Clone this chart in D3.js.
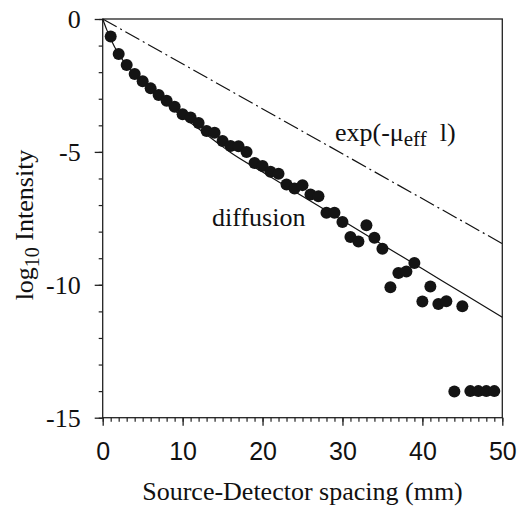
<!DOCTYPE html>
<html>
<head>
<meta charset="utf-8">
<script src="https://cdn.jsdelivr.net/npm/d3@7"></script>
<style>
  html, body { margin: 0; padding: 0; background: #fff; }
  svg { display: block; }
</style>
</head>
<body>
<svg id="chart" width="529" height="512"></svg>
<script>
// Measured intensity versus source-detector spacing
const spacing = [1, 2, 3, 4, 5, 6, 7, 8, 9, 10, 11, 12, 13, 14, 15, 16, 17, 18, 19, 20,
  21, 22, 23, 24, 25, 26, 27, 28, 29, 30, 31, 32, 33, 34, 35, 36, 37, 38, 39, 40,
  41, 42, 43, 44, 45, 46, 47, 48, 49];
const logIntensity = [-0.66, -1.32, -1.73, -2.07, -2.34, -2.61, -2.86, -3.08, -3.30, -3.58,
  -3.71, -3.91, -4.21, -4.28, -4.59, -4.78, -4.79, -5.00, -5.42, -5.53,
  -5.75, -5.82, -6.23, -6.38, -6.25, -6.60, -6.67, -7.29, -7.29, -7.64,
  -8.20, -8.37, -7.76, -8.23, -8.64, -10.09, -9.56, -9.50, -9.18, -10.63,
  -10.06, -10.72, -10.62, -14.01, -10.81, -14.00, -14.00, -14.00, -14.00];

// Diffusion model curve
const diffusionX = [0, 0.5, 1, 2, 3, 4, 5, 6, 8, 10, 12, 14, 16, 20, 25, 30, 35, 40, 45, 50];
const diffusionY = [0, -0.40, -0.75, -1.32, -1.74, -2.09, -2.40, -2.68, -3.20, -3.68,
  -4.13, -4.58, -5.02, -5.76, -6.67, -7.58, -8.49, -9.40, -10.31, -11.22];

// Pure exponential attenuation exp(-mu_eff l)
const expX = [0, 50];
const expY = [0, -8.45];

// Axis ticks
const xTicks = [0, 10, 20, 30, 40, 50];
const xTickLabels = ["0", "10", "20", "30", "40", "50"];
const yTicks = [0, -5, -10, -15];
const yTickLabels = ["0", "-5", "-10", "-15"];

const svg = d3.select("#chart");
const plot = { left: 102.7, right: 502.3, top: 19, bottom: 417.7 };

const x = d3.scaleLinear().domain([0, 50]).range([plot.left, plot.right]);
const y = d3.scaleLinear().domain([-15, 0]).range([plot.bottom, plot.top]);

const serif = "'Liberation Serif', 'Times New Roman', serif";
const sans = "'Liberation Sans', Arial, sans-serif";

// Frame
svg.append("rect")
  .attr("x", plot.left).attr("y", plot.top)
  .attr("width", plot.right - plot.left).attr("height", plot.bottom - plot.top)
  .attr("fill", "none").attr("stroke", "#222").attr("stroke-width", 1.3);

// Minor ticks
const xAxisMinor = d3.axisBottom(x).tickValues(d3.range(0, 51, 1)).tickSize(4).tickFormat("");
const yAxisMinor = d3.axisLeft(y).tickValues(d3.range(-15, 1, 1)).tickSize(4).tickFormat("");
svg.append("g").attr("transform", `translate(0,${plot.bottom})`).call(xAxisMinor)
  .call(g => g.select(".domain").remove())
  .selectAll("line").attr("stroke", "#222").attr("stroke-width", 1.2);
svg.append("g").attr("transform", `translate(${plot.left},0)`).call(yAxisMinor)
  .call(g => g.select(".domain").remove())
  .selectAll("line").attr("stroke", "#222").attr("stroke-width", 1.2);

// Major ticks and labels
const xAxis = d3.axisBottom(x).tickValues(xTicks).tickSize(8).tickPadding(17)
  .tickFormat((d, i) => xTickLabels[i]);
const gx = svg.append("g").attr("transform", `translate(0,${plot.bottom})`).call(xAxis);
gx.select(".domain").remove();
gx.selectAll("line").attr("stroke", "#222").attr("stroke-width", 1.3);
gx.selectAll("text").attr("font-family", sans).attr("font-size", 25).attr("fill", "#111");

const yAxis = d3.axisLeft(y).tickValues(yTicks).tickSize(8).tickPadding(14)
  .tickFormat((d, i) => yTickLabels[i]);
const gy = svg.append("g").attr("transform", `translate(${plot.left},0)`).call(yAxis);
gy.select(".domain").remove();
gy.selectAll("line").attr("stroke", "#222").attr("stroke-width", 1.3);
gy.selectAll("text").attr("font-family", serif).attr("font-size", 26).attr("fill", "#111");

// Model lines
const diffusionLine = d3.line().x(d => x(d[0])).y(d => y(d[1])).curve(d3.curveMonotoneX);
svg.append("path")
  .attr("d", diffusionLine(diffusionX.map((v, i) => [v, diffusionY[i]])))
  .attr("fill", "none").attr("stroke", "#111").attr("stroke-width", 1.2);
const expLine = d3.line().x(d => x(d[0])).y(d => y(d[1]));
svg.append("path")
  .attr("d", expLine(expX.map((v, i) => [v, expY[i]])))
  .attr("fill", "none").attr("stroke", "#111").attr("stroke-width", 1.2)
  .attr("stroke-dasharray", "16,4,2,4");

// Measured points
svg.append("g").selectAll("circle")
  .data(spacing.map((v, i) => [v, logIntensity[i]]))
  .join("circle")
  .attr("cx", d => x(d[0])).attr("cy", d => y(d[1]))
  .attr("r", 6).attr("fill", "#141414");

// Annotations
svg.append("text").attr("x", 212).attr("y", 226)
  .attr("font-family", serif).attr("font-size", 26).attr("fill", "#111")
  .text("diffusion");

const expLabel = svg.append("text").attr("x", 335).attr("y", 141)
  .attr("font-family", serif).attr("font-size", 26).attr("fill", "#111");
expLabel.append("tspan").text("exp(-μ");
expLabel.append("tspan").attr("font-size", 21).attr("dy", 5).text("eff");
expLabel.append("tspan").attr("dy", -5).text("\u00a0 l)");

// Axis titles
svg.append("text").attr("x", x(25)).attr("y", 500)
  .attr("text-anchor", "middle")
  .attr("font-family", serif).attr("font-size", 26).attr("fill", "#111")
  .text("Source-Detector spacing (mm)");

const yTitle = svg.append("text")
  .attr("transform", `translate(33,225) rotate(-90)`)
  .attr("text-anchor", "middle")
  .attr("font-family", serif).attr("font-size", 26).attr("fill", "#111");
yTitle.append("tspan").text("log");
yTitle.append("tspan").attr("font-size", 20).attr("dy", 6).text("10");
yTitle.append("tspan").attr("dy", -6).text(" Intensity");
</script>
</body>
</html>
